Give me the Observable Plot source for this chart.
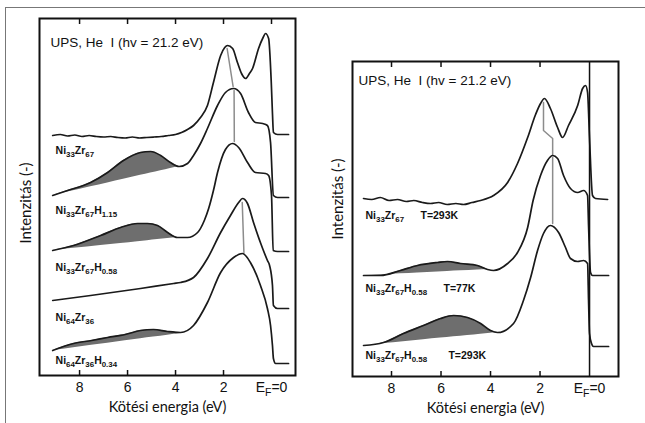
<!DOCTYPE html>
<html><head><meta charset="utf-8">
<script src="https://cdn.jsdelivr.net/npm/d3@7"></script>
<script src="https://cdn.jsdelivr.net/npm/@observablehq/plot@0.6"></script>
<style>
html,body{margin:0;padding:0;background:#fff;}
#wrap{position:relative;width:645px;height:423px;overflow:hidden;background:#fff;}
#border{position:absolute;left:5px;top:7px;width:700px;height:500px;border-top:1.5px solid #777;border-left:1.5px solid #777;}
#left{position:absolute;left:0;top:0;}
#right{position:absolute;left:330px;top:0;}
</style></head><body>
<div id="wrap"><div id="border"></div><div id="left"></div><div id="right"></div></div>
<script>
// ---- Data: [binding energy (eV), intensity (a.u.)] ----
// Left panel
const ni33zr67 = [[9.12,240],[8.8,241],[8.5,239.5],[8.2,240.5],[7.9,239],[7.6,240],[7.3,239],[7.0,238.5],[6.7,239],[6.4,238],[6.1,237.5],[5.8,238.5],[5.5,237.5],[5.2,238],[4.9,238.5],[4.6,239],[4.3,240],[4.0,241],[3.75,243],[3.5,246],[3.25,250],[2.96,258],[2.67,270],[2.42,293],[2.12,320],[1.95,328],[1.83,330],[1.62,327],[1.42,313],[1.25,302],[1.08,297],[0.92,302],[0.79,307],[0.54,327],[0.35,338],[0.25,342],[0.12,337],[0.01,293],[-0.04,262],[-0.08,243],[-0.25,241],[-0.71,241]];
const ni33zr67h115 = [[9.12,180],[8.5,185],[7.54,193],[6.83,203],[6.17,215],[5.46,223],[5.04,224],[4.62,220],[4.21,213],[3.85,209],[3.5,212],[3.25,220],[2.96,232],[2.67,247],[2.25,270],[1.92,283],[1.58,287],[1.29,282],[0.96,263],[0.67,253],[0.37,252],[0.17,250],[0.04,233],[-0.08,180],[-0.25,178],[-0.71,178]];
const ni33zr67h058 = [[9.12,125],[8.25,130],[7.12,140],[6.29,148],[5.58,152],[5.17,152],[4.75,150],[4.33,143],[3.92,138],[3.5,138],[3.08,143],[2.8,155],[2.62,167],[2.42,185],[2.25,203],[1.92,226],[1.62,232],[1.37,228],[1.0,213],[0.67,203],[0.25,202],[0.12,200],[0.0,180],[-0.07,125],[-0.25,124],[-0.71,124]];
const ni64zr36 = [[9.12,75],[7.54,80],[5.46,87],[4.08,92],[3.79,93],[3.25,98],[2.67,117],[2.12,143],[1.71,160],[1.37,173],[1.21,177],[1.0,172],[0.75,153],[0.37,127],[0.17,115],[0.08,110],[-0.04,90],[-0.08,70],[-0.25,67],[-0.71,67]];
const ni64zr36h034 = [[9.12,25],[8.25,32],[7.5,35],[6.83,38],[6.1,41],[5.46,45],[4.92,46],[4.33,44],[3.79,43],[3.25,50],[2.67,73],[2.12,103],[1.58,118],[1.21,122],[0.88,113],[0.46,90],[0.17,67],[0.04,50],[-0.04,30],[-0.08,17],[-0.17,12],[-0.71,12]];
// Right panel
const rNi33zr67 = [[9.13,178],[8.8,177],[8.45,179],[8.1,176],[7.76,177],[7.4,175],[7.1,176],[6.75,174],[6.42,173],[6.1,174],[5.75,172],[5.4,173],[5.09,172],[4.75,174],[4.4,176],[3.88,181],[3.31,194],[2.91,213],[2.5,239],[2.18,262],[1.98,273],[1.82,278],[1.58,268],[1.29,249],[1.09,239],[0.85,251],[0.48,271],[0.28,288],[0.16,291],[0.08,284],[0.0,238],[-0.12,181],[-0.24,178],[-0.73,177]];
const rH058t77 = [[9.13,101],[8.44,101],[7.64,106],[6.95,111],[6.14,114],[5.74,115],[5.21,113],[4.53,111],[4.12,107],[3.88,106],[3.31,113],[2.91,124],[2.5,149],[2.28,176],[1.98,201],[1.7,216],[1.49,221],[1.29,218],[1.05,201],[0.77,188],[0.48,184],[0.24,186],[0.08,181],[0.04,151],[-0.04,104],[-0.12,101],[-0.77,101]];
const rH058t293 = [[9.13,31],[8.32,34],[7.52,43],[6.71,51],[6.02,58],[5.49,61],[4.93,59],[4.4,53],[4.0,46],[3.72,44],[3.07,53],[2.67,76],[2.38,99],[2.1,126],[1.86,143],[1.58,151],[1.25,144],[0.97,129],[0.77,118],[0.48,115],[0.24,116],[0.08,113],[0.04,76],[0.0,43],[-0.08,33],[-0.16,30],[-0.77,30]];

// Hydrogen-induced bands: [start eV, end eV, background at start, background at end]
const bandL2 = [9.12, 3.85, 180, 209];
const bandL3 = [9.12, 3.92, 125, 138];
const bandL5 = [9.12, 3.79, 25, 42];
const bandR2 = [9.13, 4.12, 101, 107];
const bandR3 = [9.13, 3.72, 31, 44];

// Peak-shift marker lines
const markL1 = [[1.85,327],[1.6,289]];
const markL2 = [[1.56,285],[1.55,234]];
const markL3 = [[1.22,173],[1.15,123]];
const markR1 = [[1.86,274],[1.86,246],[1.49,238],[1.49,221]];
const markR2 = [[1.49,219],[1.49,153]];

// Labels
const leftLabels = ["Ni_{33}Zr_{67}", "Ni_{33}Zr_{67}H_{1.15}", "Ni_{33}Zr_{67}H_{0.58}", "Ni_{64}Zr_{36}", "Ni_{64}Zr_{36}H_{0.34}"];
const leftLabelE = [9.0, 9.0, 9.0, 9.0, 9.0];
const leftLabelI = [225, 165, 108, 58, 15];
const rightLabels = ["Ni_{33}Zr_{67}", "T=293K", "Ni_{33}Zr_{67}H_{0.58}", "T=77K", "Ni_{33}Zr_{67}H_{0.58}", "T=293K"];
const rightLabelE = [9.05, 6.83, 9.05, 5.9, 9.05, 5.7];
const rightLabelI = [161, 161, 88, 88, 21, 21];
const sourceText = "UPS, He\u00a0\u00a0I (hv = 21.2 eV)";
const xTitle = "Kötési energia (eV)";
const yTitle = "Intenzitás (-)";
const tickValues = [8, 6, 4, 2, 0];
const tickLabels = ["8", "6", "4", "2", "E_{F}=0"];

// ---- helpers ----
const toObj = arr => arr.map(([e, I]) => ({e, I}));
function band(curve, [e0, e1, b0, b1]) {
  return curve.filter(([e]) => e <= e0 && e >= e1)
    .map(([e, I]) => ({e, I, bg: b0 + (b1 - b0) * (e0 - e) / (e0 - e1)}));
}
const LINE = {x: "e", y: "I", stroke: "#1a1a1a", strokeWidth: 1.7, curve: "monotone-x"};
const FILL = {x: "e", y1: "bg", y2: "I", fill: "#6e6e6e", curve: "monotone-x"};
const MARK = {x: "e", y: "I", stroke: "#8c8c8c", strokeWidth: 1.5};
const LBL = {fontFamily: "Liberation Sans, Arial, sans-serif", fontWeight: "bold", fontSize: 10.5, textAnchor: "start", fill: "#111"};

function panel({width, marginLeft, marginRight, marginTop, marginBottom, xdom, ydom, curves, bands, marks, labels, lblE, lblI, srcE, srcI, topTicks, botTicks, efLine, yDx, yDy}) {
  return Plot.plot({
    width, height: 423, marginLeft, marginRight, marginTop, marginBottom,
    x: {domain: xdom, axis: null},
    y: {domain: ydom, axis: null},
    style: {fontFamily: "Liberation Sans, Arial, sans-serif", fontSize: "14px", background: "transparent", overflow: "visible", color: "#111"},
    marks: [
      ...bands.map(b => Plot.areaY(b, FILL)),
      ...marks.map(m => Plot.line(toObj(m), MARK)),
      ...curves.map(c => Plot.line(toObj(c), LINE)),
      efLine ? Plot.ruleX([0], {stroke: "#111", strokeWidth: 1.5}) : null,
      Plot.ruleX(topTicks, {x: d => d, y1: ydom[1] - 6, y2: ydom[1], stroke: "#111", strokeWidth: 1.5}),
      Plot.ruleX(botTicks, {x: d => d, y1: 0, y2: 5, stroke: "#111", strokeWidth: 1.5}),
      Plot.frame({stroke: "#111", strokeWidth: 2}),
      Plot.text(tickValues, {x: d => d, frameAnchor: "bottom", lineAnchor: "middle", dy: 12, text: (d, i) => tickLabels[i], fontSize: 14, fill: "#111"}),
      Plot.text(labels, {x: (d, i) => lblE[i], y: (d, i) => lblI[i], text: d => d, ...LBL}),
      Plot.text([sourceText], {x: srcE, y: srcI, text: d => d, textAnchor: "start", fontSize: 13.5, fill: "#111"}),
      Plot.text([xTitle], {frameAnchor: "bottom", lineAnchor: "middle", dy: 32, text: d => d, fontSize: 14.5, fontFamily: "Lato, sans-serif", fill: "#111"}),
      Plot.text([yTitle], {frameAnchor: "left", textAnchor: "middle", dx: yDx, dy: yDy, rotate: -90, text: d => d, fontSize: 15, fontFamily: "Lato, sans-serif", fill: "#111"})
    ].filter(Boolean)
  });
}

const left = panel({
  width: 330, marginLeft: 39, marginRight: 35, marginTop: 18, marginBottom: 48,
  xdom: [9.67, -1.0], ydom: [0, 357],
  curves: [ni33zr67, ni33zr67h115, ni33zr67h058, ni64zr36, ni64zr36h034],
  bands: [band(ni33zr67h115, bandL2), band(ni33zr67h058, bandL3), band(ni64zr36h034, bandL5)],
  marks: [markL1, markL2, markL3],
  labels: leftLabels, lblE: leftLabelE, lblI: leftLabelI,
  srcE: 9.21, srcI: 333, topTicks: [8, 6, 4, 2, 0], botTicks: [8, 6, 4, 2], efLine: false, yDx: -13, yDy: 6
});
const right = panel({
  width: 315, marginLeft: 22, marginRight: 27, marginTop: 61, marginBottom: 47,
  xdom: [9.576, -1.17], ydom: [0, 315],
  curves: [rNi33zr67, rH058t77, rH058t293],
  bands: [band(rH058t77, bandR2), band(rH058t293, bandR3)],
  marks: [markR1, markR2],
  labels: rightLabels, lblE: rightLabelE, lblI: rightLabelI,
  srcE: 9.33, srcI: 296, topTicks: [8, 6, 4, 2], botTicks: [8, 6, 4, 2], efLine: true, yDx: -14, yDy: -20
});
document.getElementById("left").appendChild(left);
document.getElementById("right").appendChild(right);

// subscript markup "_{..}" -> tspans
function subs(svg) {
  const NS = "http://www.w3.org/2000/svg";
  svg.querySelectorAll("text").forEach(t => {
    const s = t.textContent;
    if (!s.includes("_{")) return;
    const fs = parseFloat(getComputedStyle(t).fontSize) || 10;
    const shift = Math.round(fs * 0.3 * 10) / 10;
    while (t.firstChild) t.removeChild(t.firstChild);
    let down = false;
    for (const p of s.split(/(_\{[^}]*\})/)) {
      if (!p) continue;
      const ts = document.createElementNS(NS, "tspan");
      if (p.startsWith("_{")) {
        ts.textContent = p.slice(2, -1);
        ts.setAttribute("font-size", (fs * 0.75).toFixed(1));
        if (!down) { ts.setAttribute("dy", shift); down = true; }
      } else {
        ts.textContent = p;
        if (down) { ts.setAttribute("dy", -shift); down = false; }
      }
      t.appendChild(ts);
    }
  });
}
subs(left); subs(right);
</script></body></html>
